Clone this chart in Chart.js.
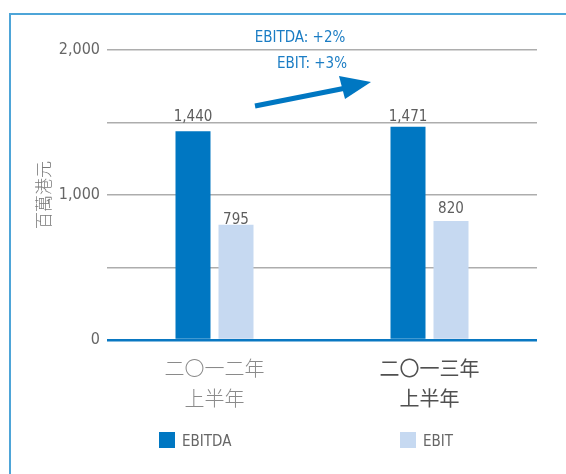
<!DOCTYPE html>
<html>
<head>
<meta charset="utf-8">
<script src="https://cdn.jsdelivr.net/npm/chart.js@4.4.0/dist/chart.umd.min.js"></script>
<style>
  html, body { margin: 0; padding: 0; background: #fff; }
  #wrap { position: relative; width: 566px; height: 474px; overflow: hidden; }
  #frame { position: absolute; left: 9px; top: 13px; width: 600px; height: 500px;
           border-top: 2px solid #4ea5d8; border-left: 2px solid #4ea5d8; }
  canvas { position: absolute; left: 0; top: 0; }
</style>
</head>
<body>
<div id="wrap">
  <div id="frame"></div>
  <canvas id="c" width="566" height="474"></canvas>
</div>
<script>
// ---- data ----
const categories = [["二〇一二年", "上半年"], ["二〇一三年", "上半年"]];
const seriesNames = ["EBITDA", "EBIT"];
const ebitdaValues = [1440, 1471];
const ebitValues = [795, 820];
const yTickValues = [0, 500, 1000, 1500, 2000];
const yTickLabels = { 0: "0", 1000: "1,000", 2000: "2,000" };
const yAxisTitle = "百萬港元";
const growthNotes = ["EBITDA: +2%", "EBIT: +3%"];

const colors = { ebitda: "#0077c2", ebit: "#c6d9f1", zero: "#0a78c2", grid: "#adadad",
                 text: "#666666", note: "#1b7dc4" };
const NARROW = '"Liberation Sans Narrow", "DejaVu Sans Condensed", "Liberation Sans", sans-serif';
const CJK = '"Noto Sans CJK TC", "Noto Sans CJK SC", sans-serif';

// value labels above bars (gap in px between bar top and label, as in the original)
const labelGap = [[10, 6], [1, 8]];
const valueLabels = {
  id: "valueLabels",
  afterDatasetsDraw(chart) {
    const ctx = chart.ctx;
    ctx.save();
    ctx.font = "15px " + NARROW;
    ctx.fillStyle = "#5e5e5e";
    ctx.textAlign = "center";
    ctx.textBaseline = "alphabetic";
    chart.data.datasets.forEach((ds, di) => {
      chart.getDatasetMeta(di).data.forEach((bar, i) => {
        ctx.fillText(ds.data[i].toLocaleString("en-US"), bar.x, bar.y - labelGap[di][i]);
      });
    });
    ctx.restore();
  }
};

// legend + growth annotation
const extras = {
  id: "extras",
  afterDraw(chart) {
    const ctx = chart.ctx;
    ctx.save();
    // legend
    const items = [{ x: 159, color: colors.ebitda, text: seriesNames[0] },
                   { x: 400, color: colors.ebit, text: seriesNames[1] }];
    ctx.font = "15px " + NARROW;
    ctx.textBaseline = "middle";
    ctx.textAlign = "left";
    items.forEach(it => {
      ctx.fillStyle = it.color;
      ctx.fillRect(it.x, 432, 16, 16);
      ctx.fillStyle = colors.text;
      ctx.fillText(it.text, it.x + 23, 442);
    });
    // notes
    ctx.fillStyle = colors.note;
    ctx.textAlign = "center";
    ctx.font = "15px " + NARROW;
    ctx.fillText(growthNotes[0], 300, 38);
    ctx.fillText(growthNotes[1], 312, 64);
    // arrow
    ctx.strokeStyle = colors.ebitda;
    ctx.fillStyle = colors.ebitda;
    ctx.lineWidth = 5;
    ctx.beginPath();
    ctx.moveTo(255, 106);
    ctx.lineTo(346, 88);
    ctx.stroke();
    ctx.beginPath();
    ctx.moveTo(371, 82);
    ctx.lineTo(339, 76);
    ctx.lineTo(345, 99);
    ctx.closePath();
    ctx.fill();
    ctx.restore();
  }
};

new Chart(document.getElementById("c"), {
  type: "bar",
  data: {
    labels: categories,
    datasets: [
      { label: seriesNames[0], data: ebitdaValues, backgroundColor: colors.ebitda },
      { label: seriesNames[1], data: ebitValues, backgroundColor: colors.ebit }
    ]
  },
  options: {
    responsive: false,
    animation: false,
    devicePixelRatio: 1,
    categoryPercentage: 0.4,
    barPercentage: 0.814,
    layout: { padding: { top: 50, right: 29, left: 0, bottom: 0 } },
    plugins: { legend: { display: false }, tooltip: { enabled: false } },
    scales: {
      x: {
        grid: { display: false },
        border: { display: false },
        ticks: {
          padding: 5,
          maxRotation: 0,
          color: (c) => c.index === 1 ? "#505050" : "#8a8a8a",
          font: (c) => ({ family: CJK, size: 20, lineHeight: 1.5,
                           weight: c.index === 1 ? "400" : "300" })
        },
        afterFit(s) { s.height = 134; }
      },
      y: {
        min: 0, max: 2000,
        afterBuildTicks(s) { s.ticks = yTickValues.map(v => ({ value: v })); },
        border: { display: false },
        grid: {
          drawTicks: false,
          color: (c) => c.tick && c.tick.value === 0 ? colors.zero : colors.grid,
          lineWidth: (c) => c.tick && c.tick.value === 0 ? 2.5 : 1.5
        },
        ticks: {
          padding: 7,
          color: colors.text,
          font: { family: NARROW, size: 16 },
          callback: (v) => yTickLabels[v] !== undefined ? yTickLabels[v] : ""
        },
        title: {
          display: true,
          text: yAxisTitle,
          color: "#7a7a7a",
          font: { family: CJK, size: 17, weight: "300" },
          padding: { top: 33, bottom: 0 }
        },
        afterFit(s) { s.width = 107; }
      }
    }
  },
  plugins: [valueLabels, extras]
});
</script>
</body>
</html>
